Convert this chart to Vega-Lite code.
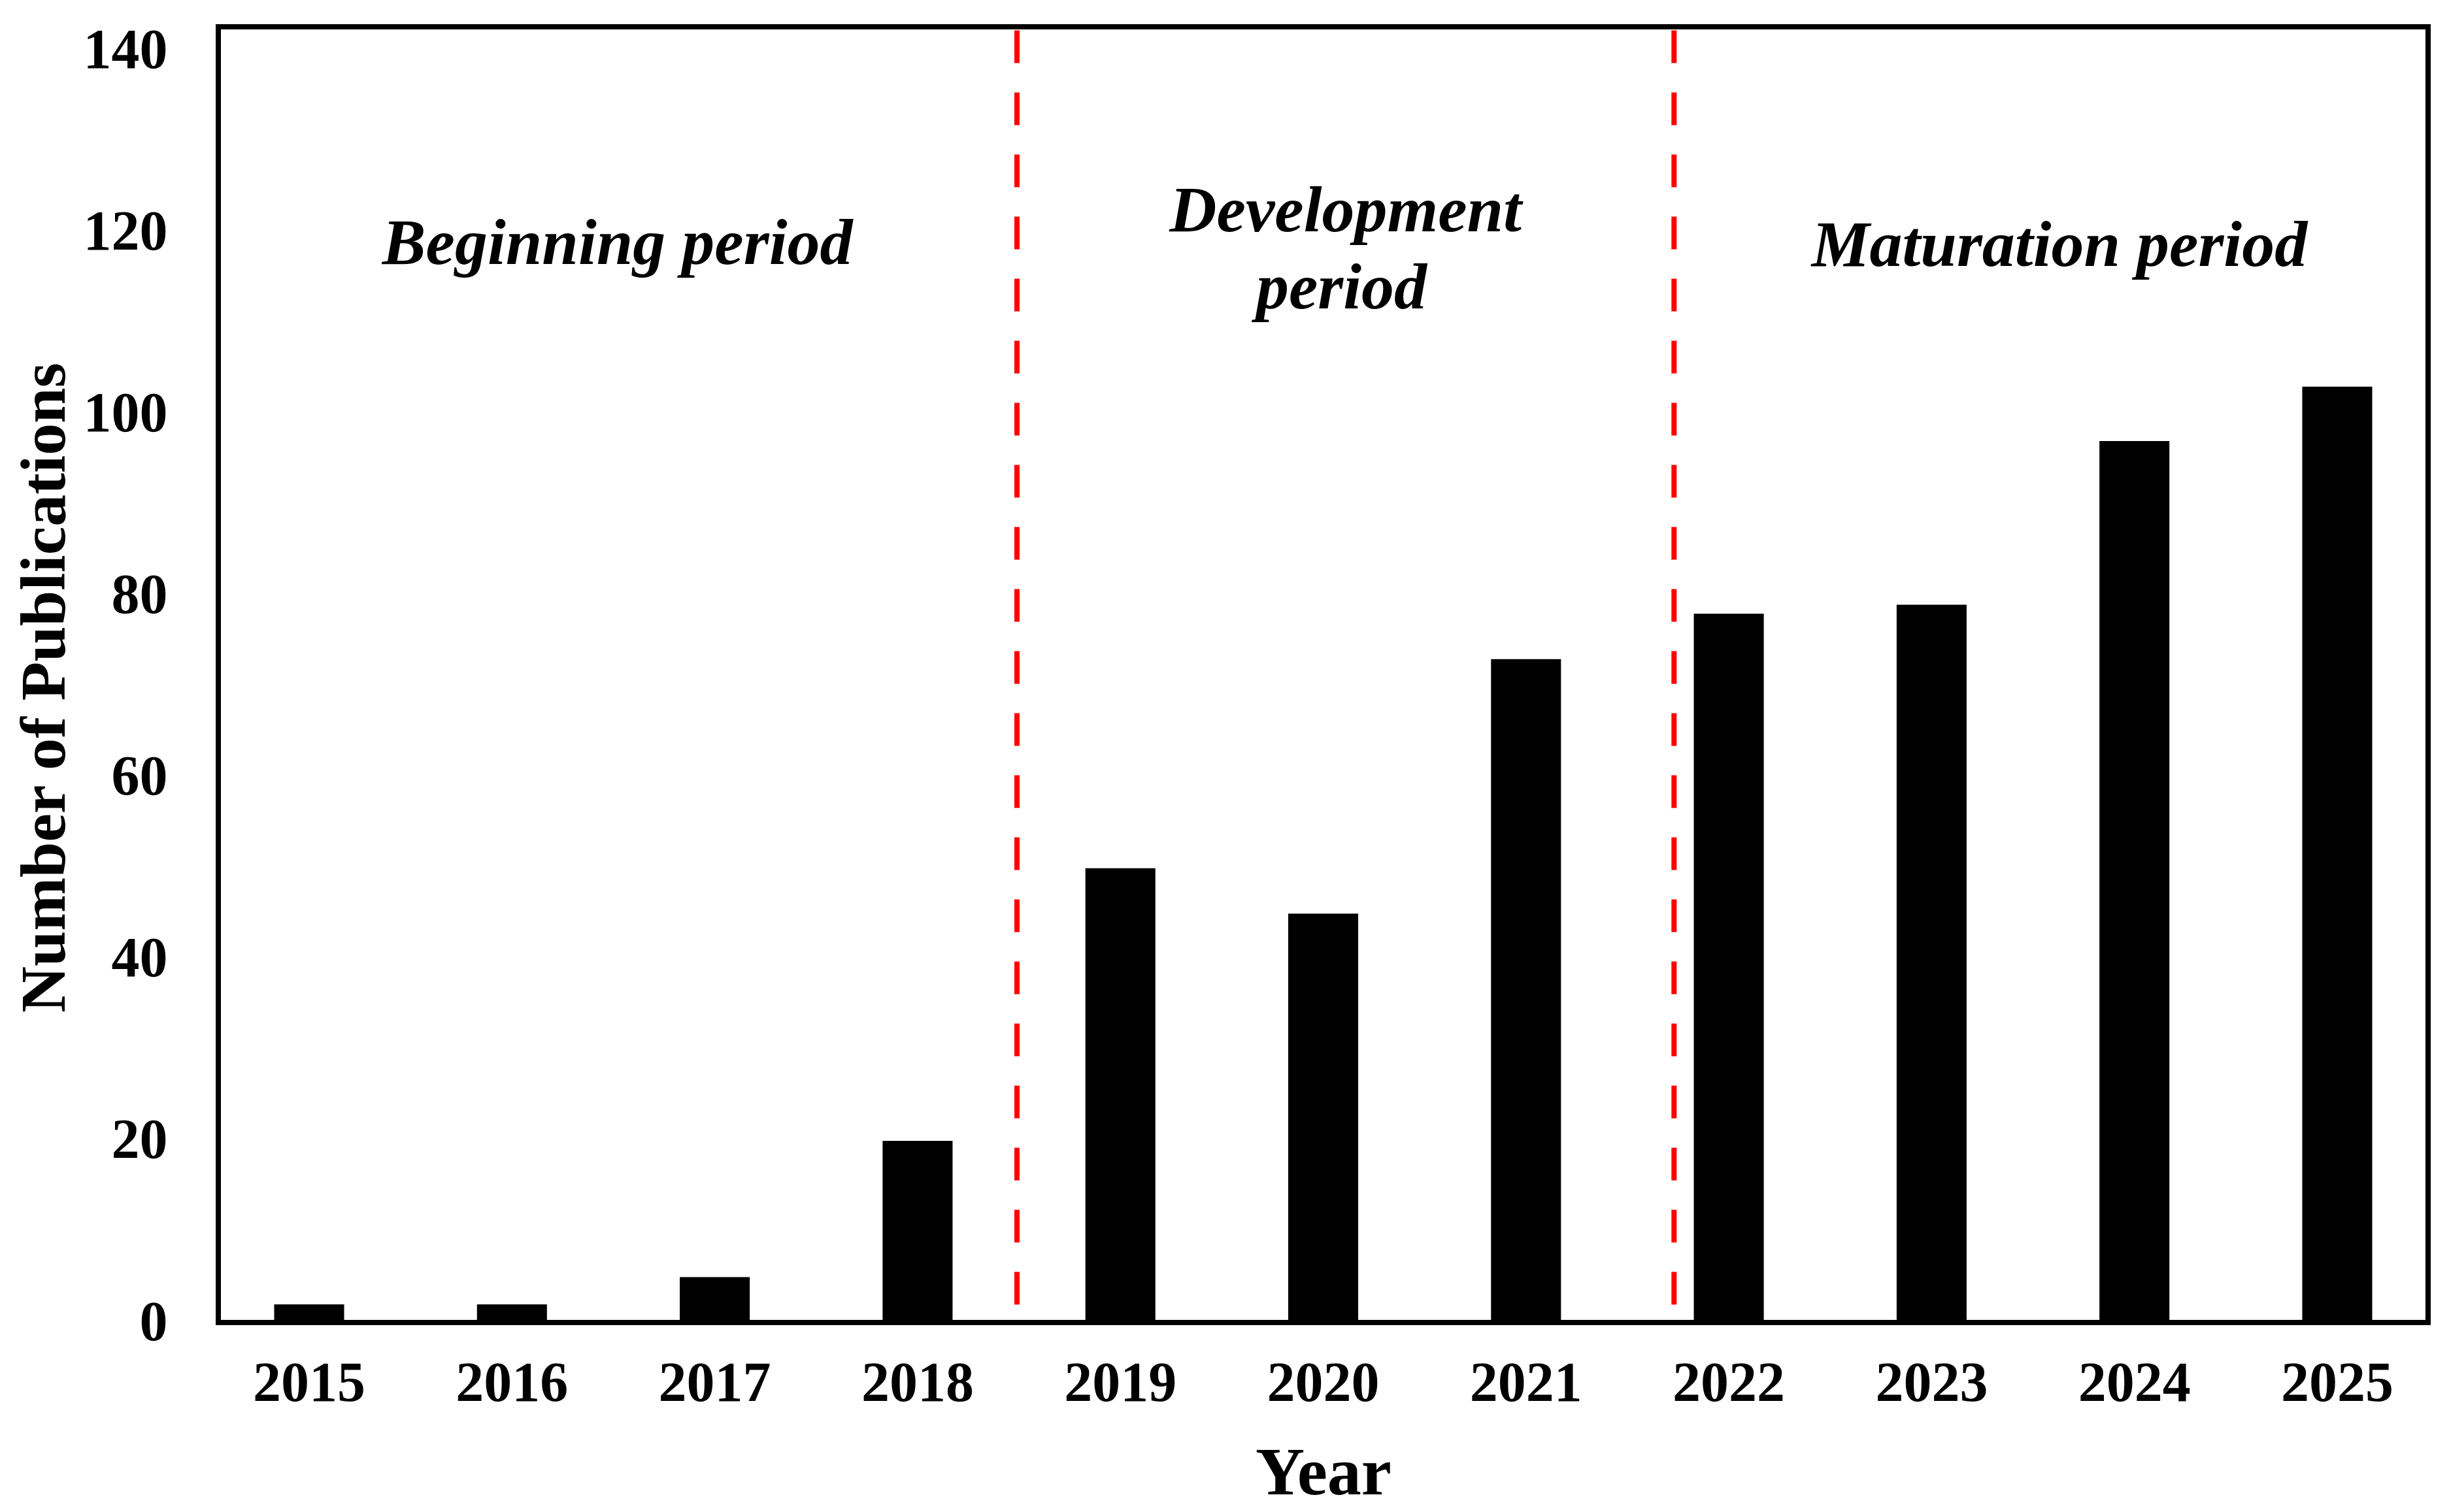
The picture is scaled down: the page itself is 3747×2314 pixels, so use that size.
{
  "$schema": "https://vega.github.io/schema/vega-lite/v6.json",
  "width": 3381,
  "height": 1983,
  "autosize": {"type": "none"},
  "padding": {"left": 334, "top": 41, "right": 32, "bottom": 290},
  "background": "white",
  "config": {
    "view": {"stroke": "black", "strokeWidth": 8},
    "font": "Liberation Serif"
  },
  "datasets": {
    "pubs": [
      {"Year": "2015", "Count": 2},
      {"Year": "2016", "Count": 2},
      {"Year": "2017", "Count": 5},
      {"Year": "2018", "Count": 20},
      {"Year": "2019", "Count": 50},
      {"Year": "2020", "Count": 45},
      {"Year": "2021", "Count": 73},
      {"Year": "2022", "Count": 78},
      {"Year": "2023", "Count": 79},
      {"Year": "2024", "Count": 97},
      {"Year": "2025", "Count": 103}
    ],
    "dividers": [
      {"pos": 2018.49},
      {"pos": 2021.73}
    ],
    "notes": [
      {"label": "Beginning period", "pos": 2016.52, "y": 116.5},
      {"label": "Development", "pos": 2020.11, "y": 120.1},
      {"label": "period", "pos": 2020.09, "y": 111.6},
      {"label": "Maturation period", "pos": 2023.63, "y": 116.3}
    ]
  },
  "layer": [
    {
      "data": {"name": "pubs"},
      "mark": {"type": "bar", "color": "black"},
      "encoding": {
        "x": {
          "field": "Year",
          "type": "ordinal",
          "sort": null,
          "scale": {"type": "band", "paddingInner": 0.655, "paddingOuter": 0.2755},
          "axis": {
            "title": "Year",
            "labelAngle": 0,
            "labelFont": "Liberation Serif",
            "labelFontSize": 86,
            "labelFontWeight": "bold",
            "labelColor": "black",
            "labelBaseline": "alphabetic",
            "labelPadding": 119,
            "ticks": false,
            "tickSize": 0,
            "domain": false,
            "grid": false,
            "titleFont": "Liberation Serif",
            "titleFontSize": 104,
            "titleFontWeight": "bold",
            "titleColor": "black",
            "titleBaseline": "alphabetic",
            "titleY": 262
          }
        },
        "y": {
          "field": "Count",
          "type": "quantitative",
          "scale": {"domain": [0, 142.6], "nice": false, "zero": true},
          "axis": {
            "title": "Number of Publications",
            "values": [0, 20, 40, 60, 80, 100, 120, 140],
            "labelFont": "Liberation Serif",
            "labelFontSize": 86,
            "labelFontWeight": "bold",
            "labelColor": "black",
            "labelPadding": 78,
            "ticks": false,
            "tickSize": 0,
            "domain": false,
            "grid": false,
            "titleFont": "Liberation Serif",
            "titleFontSize": 98,
            "titleFontWeight": "bold",
            "titleColor": "black",
            "titleBaseline": "alphabetic",
            "titleAngle": 270,
            "titleX": -236,
            "titleY": 1011
          }
        }
      }
    },
    {
      "data": {"name": "dividers"},
      "mark": {"type": "rule", "color": "#ff0000", "strokeWidth": 8, "strokeDash": [50, 45]},
      "encoding": {
        "x": {
          "field": "pos",
          "type": "quantitative",
          "scale": {"domain": [2014.552, 2025.448], "nice": false, "zero": false},
          "axis": null
        },
        "y": {"datum": 142.2, "type": "quantitative", "scale": {"domain": [0, 142.6], "nice": false, "zero": true}},
        "y2": {"datum": 0}
      }
    },
    {
      "data": {"name": "notes"},
      "mark": {
        "type": "text",
        "font": "Liberation Serif",
        "fontSize": 100,
        "fontWeight": "bold",
        "fontStyle": "italic",
        "align": "center",
        "baseline": "alphabetic",
        "color": "black"
      },
      "encoding": {
        "x": {
          "field": "pos",
          "type": "quantitative",
          "scale": {"domain": [2014.552, 2025.448], "nice": false, "zero": false},
          "axis": null
        },
        "y": {
          "field": "y",
          "type": "quantitative",
          "scale": {"domain": [0, 142.6], "nice": false, "zero": true}
        },
        "text": {"field": "label"}
      }
    }
  ],
  "resolve": {"scale": {"x": "independent"}}
}
